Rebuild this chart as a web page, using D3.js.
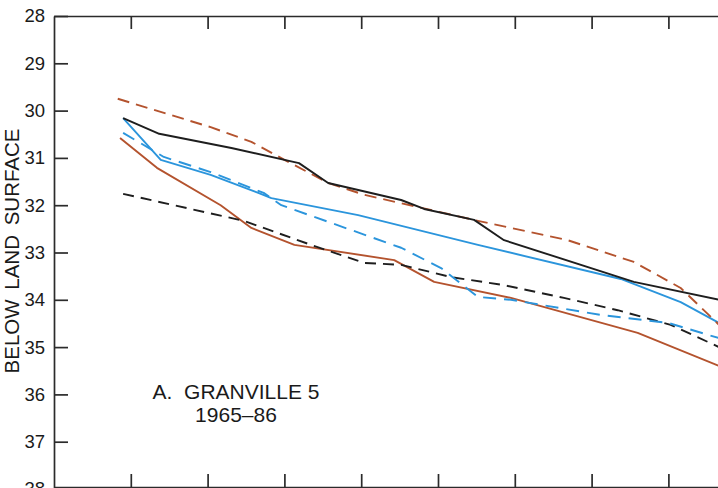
<!DOCTYPE html>
<html>
<head>
<meta charset="utf-8">
<script src="https://cdn.jsdelivr.net/npm/d3@7"></script>
<style>
  html, body { margin: 0; padding: 0; background: #fff; }
  svg { display: block; }
  text { font-family: "Liberation Sans", Arial, Helvetica, sans-serif; fill: #1a1a1a; }
</style>
</head>
<body>
<svg id="chart" width="718" height="488"></svg>
<script>
// ---- data (x in tick units, y = depth in feet below land surface) ----
const xTicks = [1, 2, 3, 4, 5, 6, 7, 8];
const yTicks = [28, 29, 30, 31, 32, 33, 34, 35, 36, 37, 38];

const blackSolid = [
  [0.90, 30.16], [1.37, 30.49], [2.31, 30.79], [3.19, 31.11], [3.57, 31.53],
  [4.52, 31.89], [4.82, 32.08], [5.47, 32.31], [5.86, 32.74], [7.55, 33.62], [8.66, 34.00]
];
const brownDashed = [
  [0.83, 29.75], [2.04, 30.35], [2.57, 30.66], [3.00, 31.04], [3.57, 31.53],
  [4.04, 31.78], [4.74, 32.04], [5.52, 32.33], [6.69, 32.74], [7.55, 33.20],
  [8.16, 33.75], [8.66, 34.53]
];
const blueSolid = [
  [0.90, 30.16], [1.39, 31.04], [2.04, 31.36], [2.66, 31.74], [2.83, 31.85],
  [3.96, 32.21], [5.52, 32.84], [7.38, 33.56], [8.16, 34.05], [8.66, 34.49]
];
const blueDashed = [
  [0.90, 30.47], [1.43, 30.98], [2.04, 31.30], [2.73, 31.74], [2.96, 32.00],
  [4.52, 32.90], [5.04, 33.33], [5.52, 33.94], [5.95, 34.00], [7.12, 34.32],
  [8.00, 34.49], [8.66, 34.81]
];
const blackDashed = [
  [0.90, 31.76], [2.47, 32.33], [3.35, 32.84], [4.04, 33.22], [4.52, 33.26],
  [5.17, 33.52], [5.86, 33.69], [6.64, 33.96], [7.34, 34.22], [8.03, 34.53], [8.66, 35.00]
];
const brownSolid = [
  [0.86, 30.58], [1.34, 31.21], [2.17, 32.00], [2.57, 32.48], [3.13, 32.84],
  [4.43, 33.16], [4.95, 33.62], [5.95, 33.96], [7.60, 34.70], [8.66, 35.40]
];

const yLabel = "BELOW LAND SURFACE";
const titleLines = ["A.  GRANVILLE 5", "1965\u201386"];

// ---- layout ----
const svg = d3.select("#chart");
const plotLeft = 54, plotTop = 16, plotBottom = 487;
const x = d3.scaleLinear().domain([0, 9]).range([plotLeft, plotLeft + 9 * 76.8]);
const y = d3.scaleLinear().domain([28, 38]).range([plotTop, 489]);

const axisColor = "#2b2b2b";

// top axis
svg.append("g")
  .attr("transform", `translate(0,${plotTop})`)
  .call(d3.axisTop(x).tickValues(xTicks).tickSizeInner(-13).tickSizeOuter(0).tickFormat(""))
  .call(g => g.selectAll("path,line").attr("stroke", axisColor).attr("stroke-width", 1.7));

// bottom axis
svg.append("g")
  .attr("transform", `translate(0,${plotBottom})`)
  .call(d3.axisBottom(x).tickValues(xTicks).tickSizeInner(-13).tickSizeOuter(0).tickFormat(""))
  .call(g => g.selectAll("path,line").attr("stroke", axisColor).attr("stroke-width", 1.7));

// left axis
svg.append("g")
  .attr("transform", `translate(${plotLeft},0)`)
  .call(d3.axisLeft(y).tickValues(yTicks).tickSizeInner(-14).tickSizeOuter(0).tickPadding(9).tickFormat(d3.format("d")))
  .call(g => g.selectAll("path,line").attr("stroke", axisColor).attr("stroke-width", 1.7))
  .call(g => g.selectAll("text")
    .style("font-family", "'Liberation Sans', Arial, sans-serif")
    .style("font-size", "18.5px").attr("fill", "#1a1a1a"));

// y label
svg.append("text")
  .attr("transform", `translate(19,251) rotate(-90)`)
  .attr("text-anchor", "middle")
  .style("font-size", "20.5px")
  .style("word-spacing", "4px")
  .text(yLabel);

// title
titleLines.forEach((t, i) => {
  svg.append("text")
    .attr("x", 236).attr("y", 399 + i * 23)
    .attr("text-anchor", "middle")
    .style("font-size", "21px")
    .style("white-space", "pre")
    .attr("xml:space", "preserve")
    .text(t);
});

// lines
const line = d3.line().x(d => x(d[0])).y(d => y(d[1]));
const series = [
  { data: brownSolid,  color: "#b4532e", dash: null },
  { data: blackDashed, color: "#1e1e1e", dash: "11,7" },
  { data: blueDashed,  color: "#2b95dc", dash: "13,8" },
  { data: blueSolid,   color: "#2b95dc", dash: null },
  { data: brownDashed, color: "#b4532e", dash: "12,7" },
  { data: blackSolid,  color: "#1e1e1e", dash: null }
];
series.forEach(s => {
  svg.append("path")
    .datum(s.data)
    .attr("d", line)
    .attr("fill", "none")
    .attr("stroke", s.color)
    .attr("stroke-width", 1.9)
    .attr("stroke-linejoin", "round")
    .attr("stroke-dasharray", s.dash);
});
</script>
</body>
</html>
